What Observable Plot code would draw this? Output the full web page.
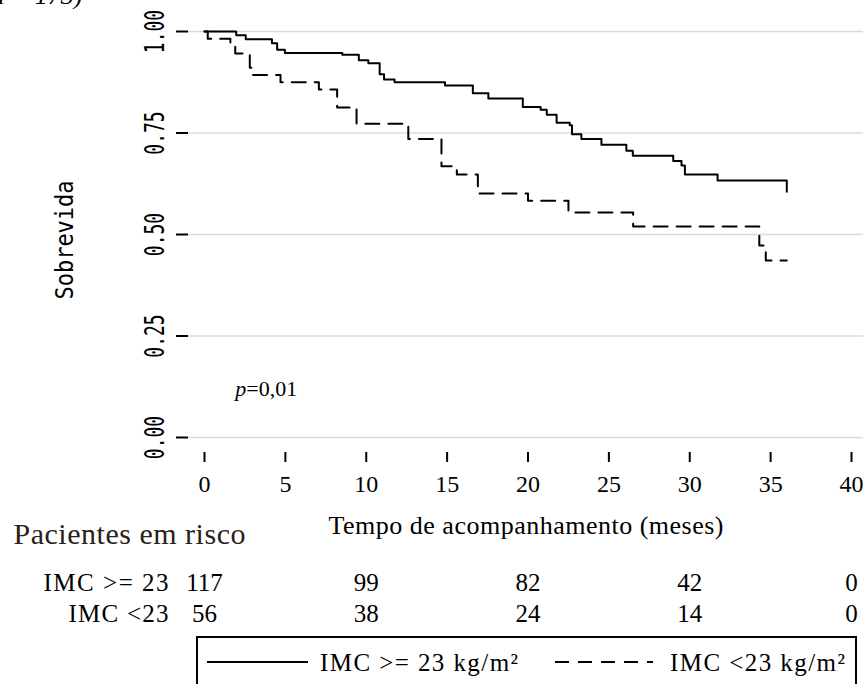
<!DOCTYPE html>
<html>
<head>
<meta charset="utf-8">
<script src="https://cdn.jsdelivr.net/npm/d3@7"></script>
<script src="https://cdn.jsdelivr.net/npm/@observablehq/plot@0.6"></script>
<style>
  html, body { margin: 0; padding: 0; background: #fff; overflow: hidden; }
  #wrap { position: relative; width: 863px; height: 684px; overflow: hidden; background: #fff; }
  #wrap svg { display: block; }
</style>
</head>
<body>
<div id="wrap"></div>
<script>
// Kaplan–Meier survival by BMI group (IMC >= 23 vs IMC < 23)

// IMC >= 23: event times (months) and survival after each step
const timeHigh = [0, 1.96, 2.55, 4.17, 4.49, 4.97, 8.52, 9.54, 10.13, 10.83, 11.1, 11.75, 14.87, 16.59, 17.55, 19.68, 20.78, 21.16, 21.77, 22.58, 22.72, 23.3, 24.54, 26.08, 26.48, 28.98, 29.49, 29.7, 31.72, 36.0];
const survHigh = [1.0, 0.991, 0.981, 0.971, 0.955, 0.947, 0.943, 0.929, 0.922, 0.895, 0.882, 0.875, 0.867, 0.848, 0.835, 0.814, 0.807, 0.795, 0.775, 0.769, 0.747, 0.735, 0.721, 0.706, 0.694, 0.681, 0.670, 0.648, 0.633, 0.605];

// IMC < 23
const timeLow = [0, 0.2, 1.6, 1.9, 2.8, 3.0, 4.7, 7.07, 8.2, 9.4, 12.6, 14.65, 15.6, 16.9, 20.0, 22.5, 26.5, 34.3, 34.7, 36.0];
const survLow = [1.0, 0.982, 0.964, 0.946, 0.911, 0.893, 0.875, 0.857, 0.813, 0.773, 0.735, 0.668, 0.648, 0.601, 0.583, 0.554, 0.520, 0.473, 0.436, 0.436];

// Number at risk
const groupLabels = ["IMC >= 23", "IMC <23"];
const riskTimes = [0, 10, 20, 30, 40];
const riskHigh = [117, 99, 82, 42, 0];
const riskLow = [56, 38, 24, 14, 0];

// Axes and annotations
const xTicks = [0, 5, 10, 15, 20, 25, 30, 35, 40];
const yTicks = [0, 0.25, 0.5, 0.75, 1];
const xTitle = "Tempo de acompanhamento (meses)";
const yTitle = "Sobrevida";
const riskTitle = "Pacientes em risco";
const legendLabels = ["IMC >= 23 kg/m²", "IMC <23 kg/m²"];
const pValueText = "p=0,01";
const pValuePos = [{t: 1.9, s: 0.12}];
const topCaption = "(n = 173)";

const serif = "'Liberation Serif', 'Times New Roman', serif";
const mono = "'DejaVu Sans Mono', monospace";

const high = timeHigh.map((t, i) => ({t, s: survHigh[i]}));
const low = timeLow.map((t, i) => ({t, s: survLow[i]}));
const riskRowHigh = riskTimes.map((t, i) => ({t, n: riskHigh[i]}));
const riskRowLow = riskTimes.map((t, i) => ({t, n: riskLow[i]}));
const dash = "14,9";

const chart = Plot.plot({
  width: 863,
  height: 684,
  marginTop: 15,
  marginBottom: 232,
  marginLeft: 188,
  marginRight: 0,
  style: {fontFamily: serif, background: "white", color: "black", overflow: "visible"},
  x: {domain: [0, 40], range: [204, 851]},
  y: {domain: [0, 1], range: [437, 31]},
  marks: [
    Plot.gridY(yTicks, {stroke: "#dadada", strokeOpacity: 1, strokeWidth: 1.5}),
    Plot.axisY(yTicks, {tickSize: 12, tickFormat: () => "", strokeWidth: 2, line: true, label: null}),
    Plot.axisX(xTicks, {tickSize: 10, tickPadding: 12, strokeWidth: 2, line: true, label: null,
      fontSize: 24, fontFamily: serif, tickFormat: d => String(d)}),
    Plot.line(high, {x: "t", y: "s", curve: "step-after", stroke: "black", strokeWidth: 2}),
    Plot.line(low, {x: "t", y: "s", curve: "step-after", stroke: "black", strokeWidth: 2, strokeDasharray: dash}),
    Plot.text(yTicks, {y: d => d, text: d => d3.format(".2f")(d), frameAnchor: "left", dx: -25,
      rotate: -90, textAnchor: "middle", lineAnchor: "bottom", fontFamily: mono, fontSize: 18,
      ariaDescription: "ytick"}),
    Plot.text([yTitle], {text: d => d, frameAnchor: "left", dx: -116, dy: 6, rotate: -90,
      textAnchor: "middle", lineAnchor: "bottom", fontFamily: mono, fontSize: 22, ariaDescription: "ytitle"}),
    Plot.text([xTitle], {text: d => d, frameAnchor: "bottom", dy: 73, lineAnchor: "middle",
      fontSize: 26, ariaDescription: "xtitle"}),
    Plot.text(pValuePos, {x: "t", y: "s", text: () => pValueText, textAnchor: "start",
      lineAnchor: "middle", fontSize: 22, ariaDescription: "pvalue"}),
    Plot.text([riskTitle], {text: d => d, frameAnchor: "bottom-left", dx: -175, dy: 82,
      textAnchor: "start", lineAnchor: "middle", fontSize: 30, fill: "#2a2117", ariaDescription: "risktitle"}),
    Plot.text([groupLabels[0]], {text: d => d, frameAnchor: "bottom-left", dx: -20, dy: 130,
      textAnchor: "end", lineAnchor: "middle", fontSize: 25, ariaDescription: "riskhigh"}),
    Plot.text([groupLabels[1]], {text: d => d, frameAnchor: "bottom-left", dx: -20, dy: 161,
      textAnchor: "end", lineAnchor: "middle", fontSize: 25, ariaDescription: "risklow"}),
    Plot.text(riskRowHigh, {x: "t", text: "n", frameAnchor: "bottom", dy: 130, lineAnchor: "middle", fontSize: 25}),
    Plot.text(riskRowLow, {x: "t", text: "n", frameAnchor: "bottom", dy: 161, lineAnchor: "middle", fontSize: 25}),
    Plot.text([topCaption], {text: d => d, frameAnchor: "top-left", dx: -106, dy: -12,
      textAnchor: "end", lineAnchor: "bottom", fontSize: 26, fontStyle: "italic"})
  ]
});

const root = d3.select(chart);
const textsOf = key => root.selectAll(`g[aria-description="${key}"] text`);

// tall, narrow axis lettering
function stretch(sel, k) {
  sel.each(function () {
    const t = this.getAttribute("transform") || "";
    this.setAttribute("transform", t + ` scale(1,${k})`);
  });
}
stretch(textsOf("ytick"), 1.5);
stretch(textsOf("ytitle"), 1.15);

// spread long labels to their drawn width
const fits = [["xtitle", 395], ["risktitle", 232], ["riskhigh", 125], ["risklow", 100]];
for (const [key, len] of fits) {
  textsOf(key).attr("textLength", len).attr("lengthAdjust", "spacing");
}

// italic p in the p-value
textsOf("pvalue").each(function () {
  const el = d3.select(this);
  const s = el.text();
  el.text("");
  el.append("tspan").attr("font-style", "italic").text(s.slice(0, 1));
  el.append("tspan").text(s.slice(1));
});

const wrap = d3.select("#wrap");
wrap.node().appendChild(chart);

// legend box below the risk table
const leg = wrap.append("svg")
  .attr("width", 863).attr("height", 684)
  .style("position", "absolute").style("left", "0px").style("top", "0px")
  .attr("font-family", serif).attr("font-size", 25);
leg.append("rect").attr("x", 197).attr("y", 637).attr("width", 659).attr("height", 90)
  .attr("fill", "none").attr("stroke", "black").attr("stroke-width", 2);
const legendItems = [
  {x0: 207, x1: 308, tx: 320, len: 198, dashArray: null},
  {x0: 555, x1: 653, tx: 670, len: 175, dashArray: dash}
];
legendItems.forEach((d, i) => {
  leg.append("line").attr("x1", d.x0).attr("x2", d.x1).attr("y1", 662).attr("y2", 662)
    .attr("stroke", "black").attr("stroke-width", 2)
    .attr("stroke-dasharray", d.dashArray);
  leg.append("text").attr("x", d.tx).attr("y", 671).text(legendLabels[i])
    .attr("textLength", d.len).attr("lengthAdjust", "spacing");
});
</script>
</body>
</html>
